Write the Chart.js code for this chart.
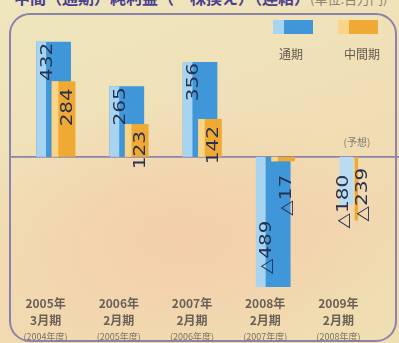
<!DOCTYPE html>
<html lang="ja">
<head>
<meta charset="utf-8">
<script src="https://cdn.jsdelivr.net/npm/chart.js"></script>
<style>
  html, body { margin: 0; padding: 0; }
  body {
    width: 399px; height: 343px; overflow: hidden; position: relative;
    background:
      radial-gradient(ellipse 230px 130px at 45% 68%, rgba(244,204,170,0.85), rgba(244,204,170,0) 100%),
      linear-gradient(160deg, #eee6bd 0%, #f0dfb6 45%, #f1d9b0 70%, #efdfb2 100%);
  }
  #title {
    position: absolute; left: 14px; top: -11px; white-space: nowrap;
    font: bold 16px/16px "Noto Sans CJK JP", sans-serif; color: #4b3f8f;
  }
  #title span { font-weight: normal; font-size: 13px; color: #8d8472; }
  #wrap { position: absolute; left: 0; top: 0; width: 399px; height: 343px; }
</style>
</head>
<body>
<div id="title">中間（通期）純利益（一株換え）（連結）<span>(単位:百万円)</span></div>
<div id="wrap"><canvas id="chart"></canvas></div>
<script>
// ---- data (百万円) ----
const YEARS        = [['2005年', '3月期'], ['2006年', '2月期'], ['2007年', '2月期'], ['2008年', '2月期'], ['2009年', '2月期']];
const FISCAL_YEARS = ['(2004年度)', '(2005年度)', '(2006年度)', '(2007年度)', '(2008年度)'];
const FULL_YEAR    = [432, 265, 356, -489, null];     // 通期
const INTERIM      = [284, 123, 142, -17, null];      // 中間期
const FULL_FCST    = [null, null, null, null, -180];  // 通期 (予想)
const INTERIM_FCST = [null, null, null, null, -239];  // 中間期 (予想)

const FRAME = '#8c84a8';
const BLUE  = '#3f96d8', BLUE_LIGHT = '#a6d4f1';
const ORNG  = '#f0aa34', ORNG_LIGHT = '#f7d488';
const JP    = '"Noto Sans CJK JP", sans-serif';

const fmt = v => v < 0 ? '△' + (-v) : String(v);

// interim bars sit in front of the full-year bars
const INTERIM_IDX = [1, 3];

function stripes(ctx, meta, light) {
  meta.data.forEach(el => {
    if (el.skip || !el.width) return;
    const top = Math.min(el.y, el.base), h = Math.abs(el.base - el.y);
    ctx.fillStyle = light;
    ctx.fillRect(el.x - el.width / 2, top, el.width * 0.28, h);
  });
}

// frame + zero line
const framePlugin = {
  id: 'frame',
  beforeDraw(chart) {
    const { ctx } = chart;
    const y0 = chart.scales.y.getPixelForValue(0);
    ctx.save();
    ctx.strokeStyle = FRAME;
    ctx.lineWidth = 2;
    ctx.beginPath();
    ctx.roundRect(10, 14, 386, 327, 20);
    ctx.stroke();
    ctx.lineWidth = 1.6;
    ctx.beginPath();
    ctx.moveTo(10, y0);
    ctx.lineTo(399, y0);
    ctx.stroke();
    ctx.restore();
  },
};

const layerPlugin = {
  id: 'layer',
  beforeDatasetDraw(chart, args) {
    if (INTERIM_IDX.includes(args.index)) return false;
  },
  afterDatasetDraw(chart, args) {
    if (args.index === 0) stripes(chart.ctx, args.meta, BLUE_LIGHT);
  },
  afterDatasetsDraw(chart) {
    INTERIM_IDX.forEach(i => {
      const meta = chart.getDatasetMeta(i);
      meta.controller.draw();
      if (i === 1) stripes(chart.ctx, meta, ORNG_LIGHT);
    });
  },
};

// rotated value labels, stretched along the bar like the print
const valuePlugin = {
  id: 'values',
  afterDatasetsDraw(chart, args, opts) {
    const { ctx } = chart;
    const y0 = chart.scales.y.getPixelForValue(0);
    const sx = 1.25;
    ctx.save();
    ctx.font = '16px "DejaVu Sans", sans-serif';
    ctx.fillStyle = '#27304f';
    ctx.textBaseline = 'middle';
    chart.data.datasets.forEach((ds, di) => {
      const meta = chart.getDatasetMeta(di);
      meta.data.forEach((el, i) => {
        const v = ds.data[i];
        if (v == null) return;
        const txt = fmt(v);
        const w = ctx.measureText(txt).width * sx;
        const len = Math.abs(el.base - el.y);
        let endY;                       // screen y of the text's last glyph
        if (v > 0) endY = el.y + (di === 0 ? 1 : 7);
        else if (len > w + 24) endY = el.y - 13 - w;
        else endY = y0 + (di === 3 ? 11 : 18);
        ctx.save();
        ctx.translate(el.x + opts.dx[di], endY);
        ctx.rotate(-Math.PI / 2);
        ctx.scale(sx, 1);
        ctx.textAlign = 'right';
        ctx.fillText(txt, 0, 0);
        ctx.restore();
      });
    });
    ctx.restore();
  },
};

// legend + forecast note
const legendPlugin = {
  id: 'legendBox',
  afterDraw(chart) {
    const { ctx } = chart;
    ctx.save();
    ctx.fillStyle = BLUE;       ctx.fillRect(273, 20, 40, 14);
    ctx.fillStyle = BLUE_LIGHT; ctx.fillRect(273, 20, 11, 14);
    ctx.fillStyle = ORNG;       ctx.fillRect(338, 20, 40, 14);
    ctx.fillStyle = ORNG_LIGHT; ctx.fillRect(338, 20, 11, 14);
    ctx.fillStyle = '#635a50';
    ctx.textAlign = 'center';
    ctx.textBaseline = 'middle';
    ctx.font = '12px ' + JP;
    ctx.fillText('通期', 291, 54);
    ctx.fillText('中間期', 362, 54);
    ctx.font = '10px ' + JP;
    ctx.fillStyle = '#857c70';
    ctx.fillText('(予想)', 357, 142);
    ctx.restore();
  },
};

const common = { categoryPercentage: 0.27, skipNull: true, borderWidth: 0 };

new Chart(document.getElementById('chart'), {
  type: 'bar',
  data: {
    labels: YEARS,
    datasets: [
      { ...common, label: '通期',   data: FULL_YEAR,    backgroundColor: BLUE, barPercentage: 3.5 },
      { ...common, label: '中間期', data: INTERIM,      backgroundColor: ORNG, barPercentage: 2.4 },
      { ...common, label: '通期(予想)',   data: FULL_FCST,    backgroundColor: '#b9dcf1', barPercentage: 1.4 },
      { ...common, label: '中間期(予想)', data: INTERIM_FCST, backgroundColor: ORNG, barPercentage: 0.35 },
    ],
  },
  options: {
    responsive: true,
    maintainAspectRatio: false,
    animation: false,
    layout: { padding: { left: 22, right: 11, top: 29, bottom: 1 } },
    plugins: {
      legend: { display: false },
      tooltip: { enabled: false },
      values: { dx: [-6, 4, -3, 7] },
    },
    scales: {
      x: {
        grid: { display: false, drawTicks: false },
        border: { display: false },
        afterFit: s => { s.height = 40; },
        ticks: {
          color: '#6a6156', autoSkip: false, maxRotation: 0, padding: 5, labelOffset: -13,
          font: { family: JP, size: 12, weight: 'bold', lineHeight: 1.42 },
        },
      },
      x2: {
        type: 'category',
        labels: FISCAL_YEARS,
        position: 'bottom',
        grid: { display: false, drawTicks: false },
        border: { display: false },
        afterFit: s => { s.height = 12; },
        ticks: {
          color: '#7a7166', autoSkip: false, maxRotation: 0, padding: 1, labelOffset: -13,
          font: { family: JP, size: 9, lineHeight: 1.2 },
        },
      },
      y: { display: false, min: -500, max: 480 },
    },
  },
  plugins: [framePlugin, layerPlugin, valuePlugin, legendPlugin],
});
</script>
</body>
</html>
